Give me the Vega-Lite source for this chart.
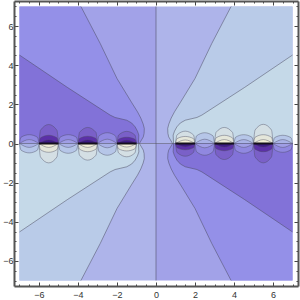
{"$schema":"https://vega.github.io/schema/vega-lite/v6.json","width":284,"height":285,"autosize":"none","padding":{"left":14,"top":1,"right":2,"bottom":14},"background":"white",
"config":{"view":{"stroke":null}},
"datasets":{
"regions":[
{"r":"tl0","i":1,"x":0,"y":7,"c":"w1","e":0},{"r":"tl0","i":2,"x":-7,"y":7,"c":"w1","e":0},{"r":"tl0","i":3,"x":-7,"y":0,"c":"w1","e":0},{"r":"tl0","i":4,"x":0,"y":0,"c":"w1","e":0},
{"r":"tr0","i":1,"x":0,"y":7,"c":"w2","e":0},{"r":"tr0","i":2,"x":7,"y":7,"c":"w2","e":0},{"r":"tr0","i":3,"x":7,"y":0,"c":"w2","e":0},{"r":"tr0","i":4,"x":0,"y":0,"c":"w2","e":0},
{"r":"bl0","i":1,"x":0,"y":-7,"c":"w2","e":0},{"r":"bl0","i":2,"x":-7,"y":-7,"c":"w2","e":0},{"r":"bl0","i":3,"x":-7,"y":0,"c":"w2","e":0},{"r":"bl0","i":4,"x":0,"y":0,"c":"w2","e":0},
{"r":"br0","i":1,"x":0,"y":-7,"c":"w1","e":0},{"r":"br0","i":2,"x":7,"y":-7,"c":"w1","e":0},{"r":"br0","i":3,"x":7,"y":0,"c":"w1","e":0},{"r":"br0","i":4,"x":0,"y":0,"c":"w1","e":0},
{"r":"tlA","i":1,"x":-3.85,"y":7,"c":"m1","e":1},{"r":"tlA","i":2,"x":-2.86,"y":5.11,"c":"m1","e":1},{"r":"tlA","i":3,"x":-2,"y":3.32,"c":"m1","e":1},{"r":"tlA","i":4,"x":-1.24,"y":2.08,"c":"m1","e":1},{"r":"tlA","i":5,"x":-0.95,"y":1.62,"c":"m1","e":1},{"r":"tlA","i":6,"x":-0.78,"y":1.3,"c":"m1","e":1},{"r":"tlA","i":7,"x":-0.66,"y":1,"c":"m1","e":1},{"r":"tlA","i":8,"x":-0.6,"y":0.77,"c":"m1","e":1},{"r":"tlA","i":9,"x":-0.61,"y":0.52,"c":"m1","e":1},{"r":"tlA","i":10,"x":-0.65,"y":0.34,"c":"m1","e":1},{"r":"tlA","i":11,"x":-0.85,"y":0,"c":"m1","e":1},{"r":"tlA","i":12,"x":-7,"y":0,"c":"m1","e":0},{"r":"tlA","i":13,"x":-7,"y":7,"c":"m1","e":0},
{"r":"trA","i":1,"x":3.85,"y":7,"c":"m2","e":1},{"r":"trA","i":2,"x":2.86,"y":5.11,"c":"m2","e":1},{"r":"trA","i":3,"x":2,"y":3.32,"c":"m2","e":1},{"r":"trA","i":4,"x":1.24,"y":2.08,"c":"m2","e":1},{"r":"trA","i":5,"x":0.95,"y":1.62,"c":"m2","e":1},{"r":"trA","i":6,"x":0.78,"y":1.3,"c":"m2","e":1},{"r":"trA","i":7,"x":0.66,"y":1,"c":"m2","e":1},{"r":"trA","i":8,"x":0.6,"y":0.77,"c":"m2","e":1},{"r":"trA","i":9,"x":0.61,"y":0.52,"c":"m2","e":1},{"r":"trA","i":10,"x":0.65,"y":0.34,"c":"m2","e":1},{"r":"trA","i":11,"x":0.85,"y":0,"c":"m2","e":1},{"r":"trA","i":12,"x":7,"y":0,"c":"m2","e":0},{"r":"trA","i":13,"x":7,"y":7,"c":"m2","e":0},
{"r":"blA","i":1,"x":-3.85,"y":-7,"c":"m2","e":1},{"r":"blA","i":2,"x":-2.86,"y":-5.11,"c":"m2","e":1},{"r":"blA","i":3,"x":-2,"y":-3.32,"c":"m2","e":1},{"r":"blA","i":4,"x":-1.24,"y":-2.08,"c":"m2","e":1},{"r":"blA","i":5,"x":-0.95,"y":-1.62,"c":"m2","e":1},{"r":"blA","i":6,"x":-0.78,"y":-1.3,"c":"m2","e":1},{"r":"blA","i":7,"x":-0.66,"y":-1,"c":"m2","e":1},{"r":"blA","i":8,"x":-0.6,"y":-0.77,"c":"m2","e":1},{"r":"blA","i":9,"x":-0.61,"y":-0.52,"c":"m2","e":1},{"r":"blA","i":10,"x":-0.65,"y":-0.34,"c":"m2","e":1},{"r":"blA","i":11,"x":-0.85,"y":0,"c":"m2","e":1},{"r":"blA","i":12,"x":-7,"y":0,"c":"m2","e":0},{"r":"blA","i":13,"x":-7,"y":-7,"c":"m2","e":0},
{"r":"brA","i":1,"x":3.85,"y":-7,"c":"m1","e":1},{"r":"brA","i":2,"x":2.86,"y":-5.11,"c":"m1","e":1},{"r":"brA","i":3,"x":2,"y":-3.32,"c":"m1","e":1},{"r":"brA","i":4,"x":1.24,"y":-2.08,"c":"m1","e":1},{"r":"brA","i":5,"x":0.95,"y":-1.62,"c":"m1","e":1},{"r":"brA","i":6,"x":0.78,"y":-1.3,"c":"m1","e":1},{"r":"brA","i":7,"x":0.66,"y":-1,"c":"m1","e":1},{"r":"brA","i":8,"x":0.6,"y":-0.77,"c":"m1","e":1},{"r":"brA","i":9,"x":0.61,"y":-0.52,"c":"m1","e":1},{"r":"brA","i":10,"x":0.65,"y":-0.34,"c":"m1","e":1},{"r":"brA","i":11,"x":0.85,"y":0,"c":"m1","e":1},{"r":"brA","i":12,"x":7,"y":0,"c":"m1","e":0},{"r":"brA","i":13,"x":7,"y":-7,"c":"m1","e":0},
{"r":"tlB","i":1,"x":-7,"y":4.52,"c":"d1","e":1},{"r":"tlB","i":2,"x":-4.55,"y":2.87,"c":"d1","e":1},{"r":"tlB","i":3,"x":-2.35,"y":1.45,"c":"d1","e":1},{"r":"tlB","i":4,"x":-2.1,"y":1.33,"c":"d1","e":1},{"r":"tlB","i":5,"x":-1.8,"y":1.26,"c":"d1","e":1},{"r":"tlB","i":6,"x":-1.5,"y":1.19,"c":"d1","e":1},{"r":"tlB","i":7,"x":-1.25,"y":1.05,"c":"d1","e":1},{"r":"tlB","i":8,"x":-1.07,"y":0.85,"c":"d1","e":1},{"r":"tlB","i":9,"x":-0.95,"y":0.63,"c":"d1","e":1},{"r":"tlB","i":10,"x":-0.88,"y":0.43,"c":"d1","e":1},{"r":"tlB","i":11,"x":-0.9,"y":0,"c":"d1","e":1},{"r":"tlB","i":12,"x":-7,"y":0,"c":"d1","e":0},
{"r":"trB","i":1,"x":7,"y":4.52,"c":"d2","e":1},{"r":"trB","i":2,"x":4.55,"y":2.87,"c":"d2","e":1},{"r":"trB","i":3,"x":2.35,"y":1.45,"c":"d2","e":1},{"r":"trB","i":4,"x":2.1,"y":1.33,"c":"d2","e":1},{"r":"trB","i":5,"x":1.8,"y":1.26,"c":"d2","e":1},{"r":"trB","i":6,"x":1.5,"y":1.19,"c":"d2","e":1},{"r":"trB","i":7,"x":1.25,"y":1.05,"c":"d2","e":1},{"r":"trB","i":8,"x":1.07,"y":0.85,"c":"d2","e":1},{"r":"trB","i":9,"x":0.95,"y":0.63,"c":"d2","e":1},{"r":"trB","i":10,"x":0.88,"y":0.43,"c":"d2","e":1},{"r":"trB","i":11,"x":0.9,"y":0,"c":"d2","e":1},{"r":"trB","i":12,"x":7,"y":0,"c":"d2","e":0},
{"r":"blB","i":1,"x":-7,"y":-4.52,"c":"d2","e":1},{"r":"blB","i":2,"x":-4.55,"y":-2.87,"c":"d2","e":1},{"r":"blB","i":3,"x":-2.35,"y":-1.45,"c":"d2","e":1},{"r":"blB","i":4,"x":-2.1,"y":-1.33,"c":"d2","e":1},{"r":"blB","i":5,"x":-1.8,"y":-1.26,"c":"d2","e":1},{"r":"blB","i":6,"x":-1.5,"y":-1.19,"c":"d2","e":1},{"r":"blB","i":7,"x":-1.25,"y":-1.05,"c":"d2","e":1},{"r":"blB","i":8,"x":-1.07,"y":-0.85,"c":"d2","e":1},{"r":"blB","i":9,"x":-0.95,"y":-0.63,"c":"d2","e":1},{"r":"blB","i":10,"x":-0.88,"y":-0.43,"c":"d2","e":1},{"r":"blB","i":11,"x":-0.9,"y":0,"c":"d2","e":1},{"r":"blB","i":12,"x":-7,"y":0,"c":"d2","e":0},
{"r":"brB","i":1,"x":7,"y":-4.52,"c":"d1","e":1},{"r":"brB","i":2,"x":4.55,"y":-2.87,"c":"d1","e":1},{"r":"brB","i":3,"x":2.35,"y":-1.45,"c":"d1","e":1},{"r":"brB","i":4,"x":2.1,"y":-1.33,"c":"d1","e":1},{"r":"brB","i":5,"x":1.8,"y":-1.26,"c":"d1","e":1},{"r":"brB","i":6,"x":1.5,"y":-1.19,"c":"d1","e":1},{"r":"brB","i":7,"x":1.25,"y":-1.05,"c":"d1","e":1},{"r":"brB","i":8,"x":1.07,"y":-0.85,"c":"d1","e":1},{"r":"brB","i":9,"x":0.95,"y":-0.63,"c":"d1","e":1},{"r":"brB","i":10,"x":0.88,"y":-0.43,"c":"d1","e":1},{"r":"brB","i":11,"x":0.9,"y":0,"c":"d1","e":1},{"r":"brB","i":12,"x":7,"y":0,"c":"d1","e":0}
],
"lobes":[
{"r":"a1","i":1,"x":-6,"y":0,"c":"p1"},{"r":"a1","i":2,"x":-5.92,"y":0.68,"c":"p1"},{"r":"a1","i":3,"x":-5.5,"y":0.97,"c":"p1"},{"r":"a1","i":4,"x":-5.08,"y":0.68,"c":"p1"},{"r":"a1","i":5,"x":-5,"y":0,"c":"p1"},
{"r":"a2","i":1,"x":-6,"y":0,"c":"p2"},{"r":"a2","i":2,"x":-5.92,"y":0.29,"c":"p2"},{"r":"a2","i":3,"x":-5.5,"y":0.42,"c":"p2"},{"r":"a2","i":4,"x":-5.08,"y":0.29,"c":"p2"},{"r":"a2","i":5,"x":-5,"y":0,"c":"p2"},
{"r":"a3","i":1,"x":-6,"y":0,"c":"p3"},{"r":"a3","i":2,"x":-5.5,"y":0.18,"c":"p3"},{"r":"a3","i":3,"x":-5,"y":0,"c":"p3"},
{"r":"b1","i":1,"x":-4,"y":0,"c":"p1"},{"r":"b1","i":2,"x":-3.92,"y":0.57,"c":"p1"},{"r":"b1","i":3,"x":-3.5,"y":0.82,"c":"p1"},{"r":"b1","i":4,"x":-3.08,"y":0.57,"c":"p1"},{"r":"b1","i":5,"x":-3,"y":0,"c":"p1"},
{"r":"b2","i":1,"x":-4,"y":0,"c":"p2"},{"r":"b2","i":2,"x":-3.92,"y":0.26,"c":"p2"},{"r":"b2","i":3,"x":-3.5,"y":0.37,"c":"p2"},{"r":"b2","i":4,"x":-3.08,"y":0.26,"c":"p2"},{"r":"b2","i":5,"x":-3,"y":0,"c":"p2"},
{"r":"b3","i":1,"x":-4,"y":0,"c":"p3"},{"r":"b3","i":2,"x":-3.5,"y":0.18,"c":"p3"},{"r":"b3","i":3,"x":-3,"y":0,"c":"p3"},
{"r":"c1","i":1,"x":-2,"y":0,"c":"p1"},{"r":"c1","i":2,"x":-1.92,"y":0.43,"c":"p1"},{"r":"c1","i":3,"x":-1.5,"y":0.62,"c":"p1"},{"r":"c1","i":4,"x":-1.08,"y":0.43,"c":"p1"},{"r":"c1","i":5,"x":-1,"y":0,"c":"p1"},
{"r":"c2","i":1,"x":-2,"y":0,"c":"p2"},{"r":"c2","i":2,"x":-1.92,"y":0.22,"c":"p2"},{"r":"c2","i":3,"x":-1.5,"y":0.32,"c":"p2"},{"r":"c2","i":4,"x":-1.08,"y":0.22,"c":"p2"},{"r":"c2","i":5,"x":-1,"y":0,"c":"p2"},
{"r":"c3","i":1,"x":-2,"y":0,"c":"p3"},{"r":"c3","i":2,"x":-1.5,"y":0.16,"c":"p3"},{"r":"c3","i":3,"x":-1,"y":0,"c":"p3"},
{"r":"d1","i":1,"x":-6,"y":0,"c":"q1"},{"r":"d1","i":2,"x":-5.92,"y":-0.69,"c":"q1"},{"r":"d1","i":3,"x":-5.5,"y":-0.99,"c":"q1"},{"r":"d1","i":4,"x":-5.08,"y":-0.69,"c":"q1"},{"r":"d1","i":5,"x":-5,"y":0,"c":"q1"},
{"r":"d2","i":1,"x":-6,"y":0,"c":"q2"},{"r":"d2","i":2,"x":-5.92,"y":-0.32,"c":"q2"},{"r":"d2","i":3,"x":-5.5,"y":-0.45,"c":"q2"},{"r":"d2","i":4,"x":-5.08,"y":-0.32,"c":"q2"},{"r":"d2","i":5,"x":-5,"y":0,"c":"q2"},
{"r":"d3","i":1,"x":-6,"y":0,"c":"q3"},{"r":"d3","i":2,"x":-5.5,"y":-0.2,"c":"q3"},{"r":"d3","i":3,"x":-5,"y":0,"c":"q3"},
{"r":"e1","i":1,"x":-4,"y":0,"c":"q1"},{"r":"e1","i":2,"x":-3.92,"y":-0.6,"c":"q1"},{"r":"e1","i":3,"x":-3.5,"y":-0.85,"c":"q1"},{"r":"e1","i":4,"x":-3.08,"y":-0.6,"c":"q1"},{"r":"e1","i":5,"x":-3,"y":0,"c":"q1"},
{"r":"e2","i":1,"x":-4,"y":0,"c":"q2"},{"r":"e2","i":2,"x":-3.92,"y":-0.29,"c":"q2"},{"r":"e2","i":3,"x":-3.5,"y":-0.42,"c":"q2"},{"r":"e2","i":4,"x":-3.08,"y":-0.29,"c":"q2"},{"r":"e2","i":5,"x":-3,"y":0,"c":"q2"},
{"r":"e3","i":1,"x":-4,"y":0,"c":"q3"},{"r":"e3","i":2,"x":-3.5,"y":-0.2,"c":"q3"},{"r":"e3","i":3,"x":-3,"y":0,"c":"q3"},
{"r":"f1","i":1,"x":-2,"y":0,"c":"q1"},{"r":"f1","i":2,"x":-1.92,"y":-0.48,"c":"q1"},{"r":"f1","i":3,"x":-1.5,"y":-0.68,"c":"q1"},{"r":"f1","i":4,"x":-1.08,"y":-0.48,"c":"q1"},{"r":"f1","i":5,"x":-1,"y":0,"c":"q1"},
{"r":"f2","i":1,"x":-2,"y":0,"c":"q2"},{"r":"f2","i":2,"x":-1.92,"y":-0.27,"c":"q2"},{"r":"f2","i":3,"x":-1.5,"y":-0.38,"c":"q2"},{"r":"f2","i":4,"x":-1.08,"y":-0.27,"c":"q2"},{"r":"f2","i":5,"x":-1,"y":0,"c":"q2"},
{"r":"f3","i":1,"x":-2,"y":0,"c":"q3"},{"r":"f3","i":2,"x":-1.5,"y":-0.18,"c":"q3"},{"r":"f3","i":3,"x":-1,"y":0,"c":"q3"},
{"r":"g1","i":1,"x":1,"y":0,"c":"q1"},{"r":"g1","i":2,"x":1.08,"y":0.44,"c":"q1"},{"r":"g1","i":3,"x":1.5,"y":0.63,"c":"q1"},{"r":"g1","i":4,"x":1.92,"y":0.44,"c":"q1"},{"r":"g1","i":5,"x":2,"y":0,"c":"q1"},
{"r":"g2","i":1,"x":1,"y":0,"c":"q2"},{"r":"g2","i":2,"x":1.08,"y":0.25,"c":"q2"},{"r":"g2","i":3,"x":1.5,"y":0.36,"c":"q2"},{"r":"g2","i":4,"x":1.92,"y":0.25,"c":"q2"},{"r":"g2","i":5,"x":2,"y":0,"c":"q2"},
{"r":"g3","i":1,"x":1,"y":0,"c":"q3"},{"r":"g3","i":2,"x":1.5,"y":0.18,"c":"q3"},{"r":"g3","i":3,"x":2,"y":0,"c":"q3"},
{"r":"h1","i":1,"x":3,"y":0,"c":"q1"},{"r":"h1","i":2,"x":3.08,"y":0.57,"c":"q1"},{"r":"h1","i":3,"x":3.5,"y":0.82,"c":"q1"},{"r":"h1","i":4,"x":3.92,"y":0.57,"c":"q1"},{"r":"h1","i":5,"x":4,"y":0,"c":"q1"},
{"r":"h2","i":1,"x":3,"y":0,"c":"q2"},{"r":"h2","i":2,"x":3.08,"y":0.29,"c":"q2"},{"r":"h2","i":3,"x":3.5,"y":0.42,"c":"q2"},{"r":"h2","i":4,"x":3.92,"y":0.29,"c":"q2"},{"r":"h2","i":5,"x":4,"y":0,"c":"q2"},
{"r":"h3","i":1,"x":3,"y":0,"c":"q3"},{"r":"h3","i":2,"x":3.5,"y":0.2,"c":"q3"},{"r":"h3","i":3,"x":4,"y":0,"c":"q3"},
{"r":"j1","i":1,"x":5,"y":0,"c":"q1"},{"r":"j1","i":2,"x":5.08,"y":0.69,"c":"q1"},{"r":"j1","i":3,"x":5.5,"y":0.98,"c":"q1"},{"r":"j1","i":4,"x":5.92,"y":0.69,"c":"q1"},{"r":"j1","i":5,"x":6,"y":0,"c":"q1"},
{"r":"j2","i":1,"x":5,"y":0,"c":"q2"},{"r":"j2","i":2,"x":5.08,"y":0.32,"c":"q2"},{"r":"j2","i":3,"x":5.5,"y":0.45,"c":"q2"},{"r":"j2","i":4,"x":5.92,"y":0.32,"c":"q2"},{"r":"j2","i":5,"x":6,"y":0,"c":"q2"},
{"r":"j3","i":1,"x":5,"y":0,"c":"q3"},{"r":"j3","i":2,"x":5.5,"y":0.2,"c":"q3"},{"r":"j3","i":3,"x":6,"y":0,"c":"q3"},
{"r":"k1","i":1,"x":1,"y":0,"c":"p1"},{"r":"k1","i":2,"x":1.08,"y":-0.46,"c":"p1"},{"r":"k1","i":3,"x":1.5,"y":-0.65,"c":"p1"},{"r":"k1","i":4,"x":1.92,"y":-0.46,"c":"p1"},{"r":"k1","i":5,"x":2,"y":0,"c":"p1"},
{"r":"k2","i":1,"x":1,"y":0,"c":"p2"},{"r":"k2","i":2,"x":1.08,"y":-0.22,"c":"p2"},{"r":"k2","i":3,"x":1.5,"y":-0.32,"c":"p2"},{"r":"k2","i":4,"x":1.92,"y":-0.22,"c":"p2"},{"r":"k2","i":5,"x":2,"y":0,"c":"p2"},
{"r":"k3","i":1,"x":1,"y":0,"c":"p3"},{"r":"k3","i":2,"x":1.5,"y":-0.16,"c":"p3"},{"r":"k3","i":3,"x":2,"y":0,"c":"p3"},
{"r":"m1","i":1,"x":3,"y":0,"c":"p1"},{"r":"m1","i":2,"x":3.08,"y":-0.57,"c":"p1"},{"r":"m1","i":3,"x":3.5,"y":-0.82,"c":"p1"},{"r":"m1","i":4,"x":3.92,"y":-0.57,"c":"p1"},{"r":"m1","i":5,"x":4,"y":0,"c":"p1"},
{"r":"m2","i":1,"x":3,"y":0,"c":"p2"},{"r":"m2","i":2,"x":3.08,"y":-0.26,"c":"p2"},{"r":"m2","i":3,"x":3.5,"y":-0.37,"c":"p2"},{"r":"m2","i":4,"x":3.92,"y":-0.26,"c":"p2"},{"r":"m2","i":5,"x":4,"y":0,"c":"p2"},
{"r":"m3","i":1,"x":3,"y":0,"c":"p3"},{"r":"m3","i":2,"x":3.5,"y":-0.18,"c":"p3"},{"r":"m3","i":3,"x":4,"y":0,"c":"p3"},
{"r":"n1","i":1,"x":5,"y":0,"c":"p1"},{"r":"n1","i":2,"x":5.08,"y":-0.69,"c":"p1"},{"r":"n1","i":3,"x":5.5,"y":-0.99,"c":"p1"},{"r":"n1","i":4,"x":5.92,"y":-0.69,"c":"p1"},{"r":"n1","i":5,"x":6,"y":0,"c":"p1"},
{"r":"n2","i":1,"x":5,"y":0,"c":"p2"},{"r":"n2","i":2,"x":5.08,"y":-0.29,"c":"p2"},{"r":"n2","i":3,"x":5.5,"y":-0.42,"c":"p2"},{"r":"n2","i":4,"x":5.92,"y":-0.29,"c":"p2"},{"r":"n2","i":5,"x":6,"y":0,"c":"p2"},
{"r":"n3","i":1,"x":5,"y":0,"c":"p3"},{"r":"n3","i":2,"x":5.5,"y":-0.18,"c":"p3"},{"r":"n3","i":3,"x":6,"y":0,"c":"p3"},
{"r":"s1","i":1,"x":-7,"y":0,"c":"s1"},{"r":"s1","i":2,"x":-6.92,"y":0.32,"c":"s1"},{"r":"s1","i":3,"x":-6.5,"y":0.45,"c":"s1"},{"r":"s1","i":4,"x":-6.08,"y":0.32,"c":"s1"},{"r":"s1","i":5,"x":-6,"y":0,"c":"s1"},
{"r":"s2","i":1,"x":-7,"y":0,"c":"s2"},{"r":"s2","i":2,"x":-6.5,"y":0.2,"c":"s2"},{"r":"s2","i":3,"x":-6,"y":0,"c":"s2"},
{"r":"s3","i":1,"x":-5,"y":0,"c":"s1"},{"r":"s3","i":2,"x":-4.92,"y":0.32,"c":"s1"},{"r":"s3","i":3,"x":-4.5,"y":0.45,"c":"s1"},{"r":"s3","i":4,"x":-4.08,"y":0.32,"c":"s1"},{"r":"s3","i":5,"x":-4,"y":0,"c":"s1"},
{"r":"s4","i":1,"x":-5,"y":0,"c":"s2"},{"r":"s4","i":2,"x":-4.5,"y":0.2,"c":"s2"},{"r":"s4","i":3,"x":-4,"y":0,"c":"s2"},
{"r":"s5","i":1,"x":-3,"y":0,"c":"s1"},{"r":"s5","i":2,"x":-2.92,"y":0.39,"c":"s1"},{"r":"s5","i":3,"x":-2.5,"y":0.55,"c":"s1"},{"r":"s5","i":4,"x":-2.08,"y":0.39,"c":"s1"},{"r":"s5","i":5,"x":-2,"y":0,"c":"s1"},
{"r":"s6","i":1,"x":-3,"y":0,"c":"s2"},{"r":"s6","i":2,"x":-2.5,"y":0.22,"c":"s2"},{"r":"s6","i":3,"x":-2,"y":0,"c":"s2"},
{"r":"t1","i":1,"x":-7,"y":0,"c":"t1"},{"r":"t1","i":2,"x":-6.92,"y":-0.34,"c":"t1"},{"r":"t1","i":3,"x":-6.5,"y":-0.48,"c":"t1"},{"r":"t1","i":4,"x":-6.08,"y":-0.34,"c":"t1"},{"r":"t1","i":5,"x":-6,"y":0,"c":"t1"},
{"r":"t2","i":1,"x":-7,"y":0,"c":"t2"},{"r":"t2","i":2,"x":-6.5,"y":-0.2,"c":"t2"},{"r":"t2","i":3,"x":-6,"y":0,"c":"t2"},
{"r":"t3","i":1,"x":-5,"y":0,"c":"t1"},{"r":"t3","i":2,"x":-4.92,"y":-0.35,"c":"t1"},{"r":"t3","i":3,"x":-4.5,"y":-0.5,"c":"t1"},{"r":"t3","i":4,"x":-4.08,"y":-0.35,"c":"t1"},{"r":"t3","i":5,"x":-4,"y":0,"c":"t1"},
{"r":"t4","i":1,"x":-5,"y":0,"c":"t2"},{"r":"t4","i":2,"x":-4.5,"y":-0.2,"c":"t2"},{"r":"t4","i":3,"x":-4,"y":0,"c":"t2"},
{"r":"t5","i":1,"x":-3,"y":0,"c":"t1"},{"r":"t5","i":2,"x":-2.92,"y":-0.42,"c":"t1"},{"r":"t5","i":3,"x":-2.5,"y":-0.6,"c":"t1"},{"r":"t5","i":4,"x":-2.08,"y":-0.42,"c":"t1"},{"r":"t5","i":5,"x":-2,"y":0,"c":"t1"},
{"r":"t6","i":1,"x":-3,"y":0,"c":"t2"},{"r":"t6","i":2,"x":-2.5,"y":-0.22,"c":"t2"},{"r":"t6","i":3,"x":-2,"y":0,"c":"t2"},
{"r":"u1","i":1,"x":2,"y":0,"c":"t1"},{"r":"u1","i":2,"x":2.08,"y":0.39,"c":"t1"},{"r":"u1","i":3,"x":2.5,"y":0.55,"c":"t1"},{"r":"u1","i":4,"x":2.92,"y":0.39,"c":"t1"},{"r":"u1","i":5,"x":3,"y":0,"c":"t1"},
{"r":"u2","i":1,"x":2,"y":0,"c":"t2"},{"r":"u2","i":2,"x":2.5,"y":0.22,"c":"t2"},{"r":"u2","i":3,"x":3,"y":0,"c":"t2"},
{"r":"u3","i":1,"x":4,"y":0,"c":"t1"},{"r":"u3","i":2,"x":4.08,"y":0.32,"c":"t1"},{"r":"u3","i":3,"x":4.5,"y":0.45,"c":"t1"},{"r":"u3","i":4,"x":4.92,"y":0.32,"c":"t1"},{"r":"u3","i":5,"x":5,"y":0,"c":"t1"},
{"r":"u4","i":1,"x":4,"y":0,"c":"t2"},{"r":"u4","i":2,"x":4.5,"y":0.2,"c":"t2"},{"r":"u4","i":3,"x":5,"y":0,"c":"t2"},
{"r":"u5","i":1,"x":6,"y":0,"c":"t1"},{"r":"u5","i":2,"x":6.08,"y":0.3,"c":"t1"},{"r":"u5","i":3,"x":6.5,"y":0.42,"c":"t1"},{"r":"u5","i":4,"x":6.92,"y":0.3,"c":"t1"},{"r":"u5","i":5,"x":7,"y":0,"c":"t1"},
{"r":"u6","i":1,"x":6,"y":0,"c":"t2"},{"r":"u6","i":2,"x":6.5,"y":0.2,"c":"t2"},{"r":"u6","i":3,"x":7,"y":0,"c":"t2"},
{"r":"v1","i":1,"x":2,"y":0,"c":"s1"},{"r":"v1","i":2,"x":2.08,"y":-0.42,"c":"s1"},{"r":"v1","i":3,"x":2.5,"y":-0.6,"c":"s1"},{"r":"v1","i":4,"x":2.92,"y":-0.42,"c":"s1"},{"r":"v1","i":5,"x":3,"y":0,"c":"s1"},
{"r":"v2","i":1,"x":2,"y":0,"c":"s2"},{"r":"v2","i":2,"x":2.5,"y":-0.22,"c":"s2"},{"r":"v2","i":3,"x":3,"y":0,"c":"s2"},
{"r":"v3","i":1,"x":4,"y":0,"c":"s1"},{"r":"v3","i":2,"x":4.08,"y":-0.35,"c":"s1"},{"r":"v3","i":3,"x":4.5,"y":-0.5,"c":"s1"},{"r":"v3","i":4,"x":4.92,"y":-0.35,"c":"s1"},{"r":"v3","i":5,"x":5,"y":0,"c":"s1"},
{"r":"v4","i":1,"x":4,"y":0,"c":"s2"},{"r":"v4","i":2,"x":4.5,"y":-0.2,"c":"s2"},{"r":"v4","i":3,"x":5,"y":0,"c":"s2"},
{"r":"v5","i":1,"x":6,"y":0,"c":"s1"},{"r":"v5","i":2,"x":6.08,"y":-0.32,"c":"s1"},{"r":"v5","i":3,"x":6.5,"y":-0.45,"c":"s1"},{"r":"v5","i":4,"x":6.92,"y":-0.32,"c":"s1"},{"r":"v5","i":5,"x":7,"y":0,"c":"s1"},
{"r":"v6","i":1,"x":6,"y":0,"c":"s2"},{"r":"v6","i":2,"x":6.5,"y":-0.2,"c":"s2"},{"r":"v6","i":3,"x":7,"y":0,"c":"s2"}
],
"axes":[{"r":"v","i":1,"x":0,"y":-7},{"r":"v","i":2,"x":0,"y":7},{"r":"h","i":1,"x":-7,"y":0},{"r":"h","i":2,"x":7,"y":0}],
"bars":[{"r":"1","i":1,"x":-6,"y":0},{"r":"1","i":2,"x":-5,"y":0},{"r":"2","i":1,"x":-4,"y":0},{"r":"2","i":2,"x":-3,"y":0},{"r":"3","i":1,"x":-2,"y":0},{"r":"3","i":2,"x":-1,"y":0},{"r":"4","i":1,"x":1,"y":0},{"r":"4","i":2,"x":2,"y":0},{"r":"5","i":1,"x":3,"y":0},{"r":"5","i":2,"x":4,"y":0},{"r":"6","i":1,"x":5,"y":0},{"r":"6","i":2,"x":6,"y":0}]
},
"resolve":{"axis":{"x":"independent","y":"independent"}},
"layer":[
{"data":{"name":"regions"},"mark":{"type":"line","strokeWidth":0,"interpolate":"linear"},
"encoding":{
"x":{"field":"x","type":"quantitative","scale":{"domain":[-7.28,7.28],"nice":false,"zero":false},"axis":{"orient":"bottom","title":null,"values":[-7,-6.5,-6,-5.5,-5,-4.5,-4,-3.5,-3,-2.5,-2,-1.5,-1,-0.5,0,0.5,1,1.5,2,2.5,3,3.5,4,4.5,5,5.5,6,6.5,7],"format":".0f","labelExpr":"datum.value % 2 === 0 ? datum.label : ''","labelOverlap":false,"labelFlush":false,"labelBound":false,"grid":false,"domainColor":"#555","domainWidth":2,"tickColor":"#444","tickSize":{"expr":"datum.value % 2 === 0 ? -4 : -2"},"labelFontSize":9,"labelFont":"Liberation Sans","labelColor":"#333","labelPadding":8}},
"y":{"field":"y","type":"quantitative","scale":{"domain":[-7.28,7.28],"nice":false,"zero":false},"axis":{"orient":"left","title":null,"values":[-7,-6.5,-6,-5.5,-5,-4.5,-4,-3.5,-3,-2.5,-2,-1.5,-1,-0.5,0,0.5,1,1.5,2,2.5,3,3.5,4,4.5,5,5.5,6,6.5,7],"format":".0f","labelExpr":"datum.value % 2 === 0 ? datum.label : ''","labelOverlap":false,"labelFlush":false,"labelBound":false,"grid":false,"domainColor":"#555","domainWidth":2,"tickColor":"#444","tickSize":{"expr":"datum.value % 2 === 0 ? -4 : -2"},"labelFontSize":9,"labelFont":"Liberation Sans","labelColor":"#333","labelPadding":5}},
"fill":{"field":"c","type":"nominal","legend":null,"scale":{"domain":["w1","w2","m1","m2","d1","d2","p1","p2","p3","q1","q2","q3","s1","s2","t1","t2"],"range":["#a2a2e8","#aeb4ea","#9490e8","#b9cbe8","#8272d8","#c5d9e8","#7a60c8","#5c30a8","#3e1a86","#d4dfe4","#e4e6da","#f2efd6","#9088e0","#a09ee6","#b6c6e8","#a9b2e6"]}},
"detail":{"field":"r"},"order":{"field":"i","type":"quantitative"}}},
{"data":{"name":"regions"},"transform":[{"filter":"datum.e === 1"}],"mark":{"type":"line","stroke":"#4a4a60","strokeOpacity":0.5,"strokeWidth":1},
"encoding":{"x":{"field":"x","type":"quantitative","scale":{"domain":[-7.28,7.28],"nice":false,"zero":false},"axis":null},"y":{"field":"y","type":"quantitative","scale":{"domain":[-7.28,7.28],"nice":false,"zero":false},"axis":null},"detail":{"field":"r"},"order":{"field":"i","type":"quantitative"}}},
{"data":{"name":"lobes"},"mark":{"type":"line","interpolate":"monotone","stroke":"#4a4a60","strokeOpacity":0.42,"strokeWidth":1},
"encoding":{"x":{"field":"x","type":"quantitative","scale":{"domain":[-7.28,7.28],"nice":false,"zero":false},"axis":null},"y":{"field":"y","type":"quantitative","scale":{"domain":[-7.28,7.28],"nice":false,"zero":false},"axis":null},
"fill":{"field":"c","type":"nominal","legend":null,"scale":{"domain":["w1","w2","m1","m2","d1","d2","p1","p2","p3","q1","q2","q3","s1","s2","t1","t2"],"range":["#a2a2e8","#aeb4ea","#9490e8","#b9cbe8","#8272d8","#c5d9e8","#7a60c8","#5c30a8","#3e1a86","#d4dfe4","#e4e6da","#f2efd6","#8d86de","#9c9ae4","#b9c8e8","#aeb8e8"]}},
"detail":{"field":"r"},"order":{"field":"i","type":"quantitative"}}},
{"data":{"name":"axes"},"mark":{"type":"line","stroke":"#4a4a60","strokeOpacity":0.55,"strokeWidth":1},
"encoding":{"x":{"field":"x","type":"quantitative","scale":{"domain":[-7.28,7.28],"nice":false,"zero":false},"axis":null},"y":{"field":"y","type":"quantitative","scale":{"domain":[-7.28,7.28],"nice":false,"zero":false},"axis":null},"detail":{"field":"r"},"order":{"field":"i","type":"quantitative"}}},
{"data":{"name":"bars"},"mark":{"type":"line","stroke":"#15101c","strokeWidth":2},
"encoding":{"x":{"field":"x","type":"quantitative","scale":{"domain":[-7.28,7.28],"nice":false,"zero":false},"axis":{"orient":"top","title":null,"labels":false,"values":[-7,-6.5,-6,-5.5,-5,-4.5,-4,-3.5,-3,-2.5,-2,-1.5,-1,-0.5,0,0.5,1,1.5,2,2.5,3,3.5,4,4.5,5,5.5,6,6.5,7],"grid":false,"domainColor":"#555","domainWidth":2,"tickColor":"#444","tickSize":{"expr":"datum.value % 2 === 0 ? -4 : -2"}}},"y":{"field":"y","type":"quantitative","scale":{"domain":[-7.28,7.28],"nice":false,"zero":false},"axis":{"orient":"right","title":null,"labels":false,"values":[-7,-6.5,-6,-5.5,-5,-4.5,-4,-3.5,-3,-2.5,-2,-1.5,-1,-0.5,0,0.5,1,1.5,2,2.5,3,3.5,4,4.5,5,5.5,6,6.5,7],"grid":false,"domainColor":"#555","domainWidth":2,"tickColor":"#444","tickSize":{"expr":"datum.value % 2 === 0 ? -4 : -2"}}},"detail":{"field":"r"},"order":{"field":"i","type":"quantitative"}}}
]}
